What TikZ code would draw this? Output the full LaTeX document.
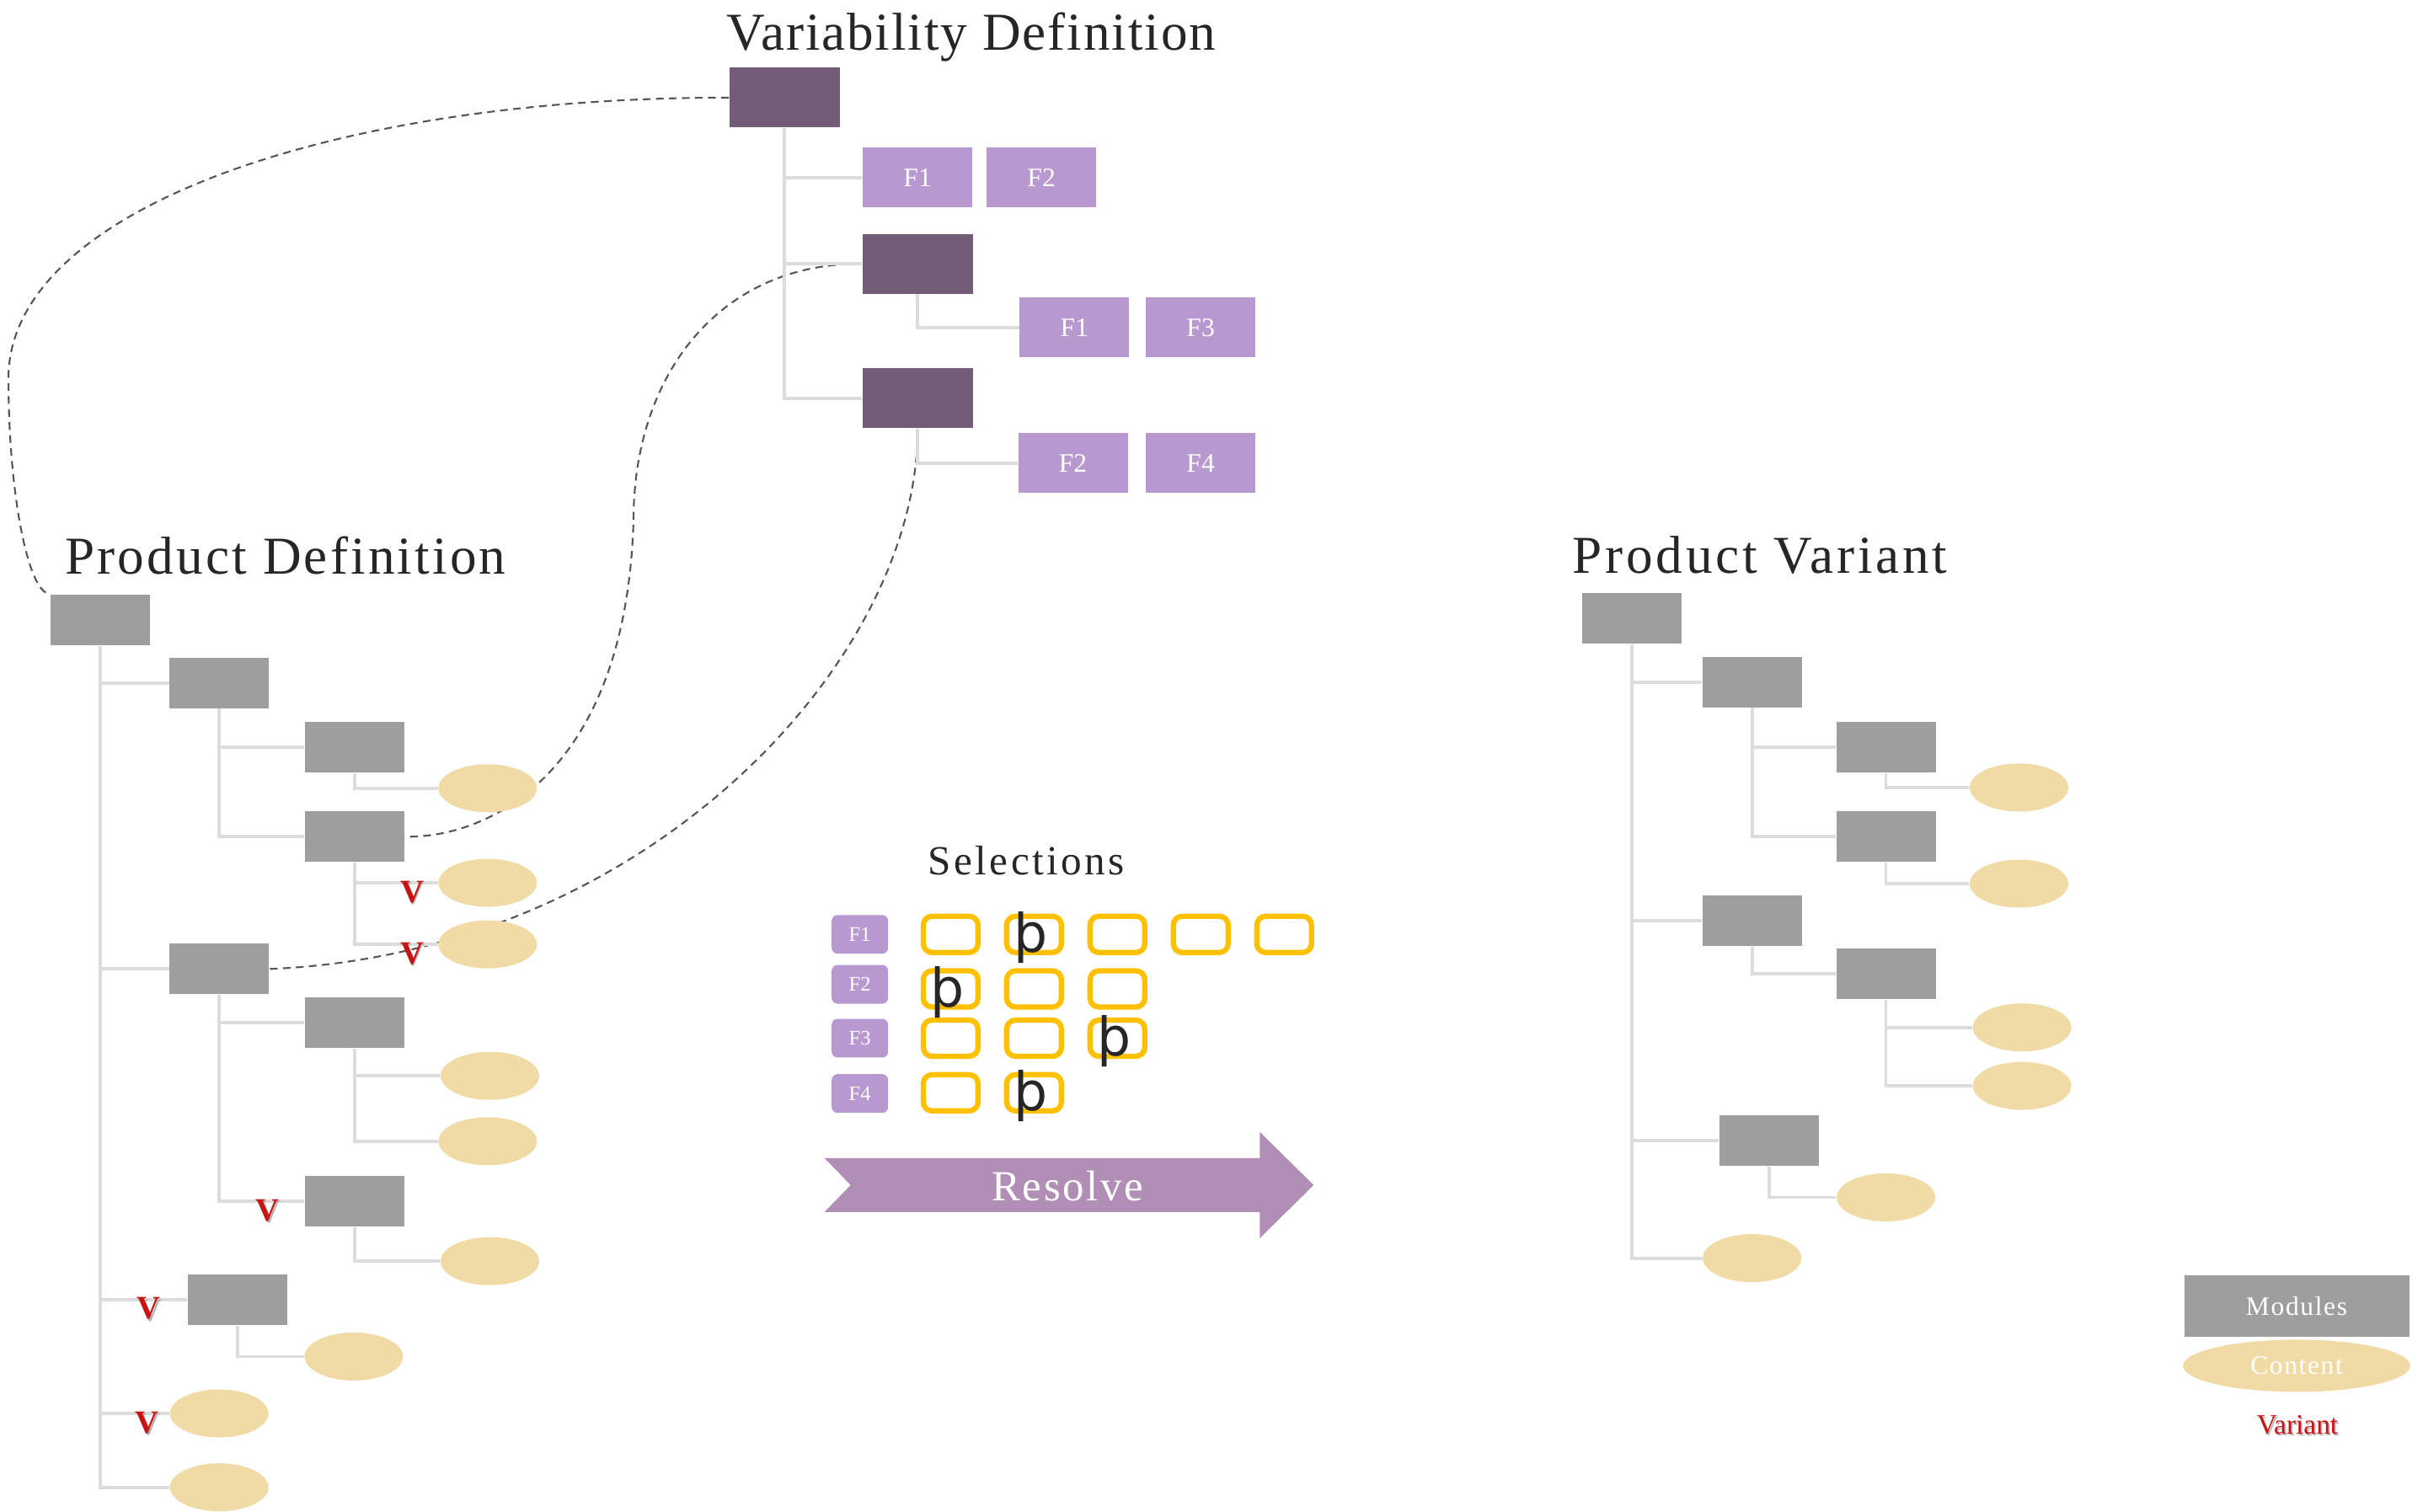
\documentclass[tikz,border=0pt]{standalone}
\usepackage{fontspec}
\setmainfont{Liberation Serif}
\newfontfamily\tickfont{DejaVu Sans}
\usetikzlibrary{shapes.geometric, positioning, calc, backgrounds}
\definecolor{moduleGrey}{RGB}{158,158,158}
\definecolor{contentSand}{RGB}{240,219,167}
\definecolor{featLilac}{RGB}{183,152,207}
\definecolor{varPlum}{RGB}{115,92,120}
\definecolor{pickAmber}{RGB}{255,192,0}
\definecolor{resolveMauve}{RGB}{176,142,181}
\definecolor{treeGrey}{RGB}{220,220,220}
\definecolor{linkGrey}{RGB}{85,85,85}
\definecolor{variantRed}{RGB}{200,20,20}
\definecolor{titleInk}{RGB}{38,38,38}
\newcommand{\shadowtext}[1]{\rlap{\textcolor{black!30}{\raisebox{-0.8pt}{\hspace{0.5pt}#1}}}#1}

\begin{document}
\begin{tikzpicture}[x=0.01826cm, y=-0.01826cm,
    module/.style={
        rectangle,
        fill=moduleGrey,
        minimum width=1.18cm,
        minimum height=0.6cm,
        inner sep=0
    },
    content/.style={
        ellipse,
        fill=contentSand,
        minimum width=1.17cm,
        minimum height=0.57cm,
        inner sep=0
    },
    vpoint/.style={
        rectangle,
        fill=varPlum,
        minimum width=1.31cm,
        minimum height=0.71cm,
        inner sep=0
    },
    feature/.style={
        rectangle,
        fill=featLilac,
        minimum width=1.3cm,
        minimum height=0.71cm,
        inner sep=0,
        text=white,
        font=\fontsize{9}{10}\selectfont
    },
    flabel/.style={
        rectangle,
        rounded corners=2pt,
        fill=featLilac,
        minimum width=0.67cm,
        minimum height=0.46cm,
        inner sep=0,
        text=white,
        font=\fontsize{7}{8}\selectfont
    },
    pick/.style={
        rectangle,
        rounded corners=3pt,
        draw=pickAmber,
        line width=1.8pt,
        minimum width=0.65cm,
        minimum height=0.43cm,
        inner sep=0
    },
    tick/.style={
        anchor=base west,
        inner sep=0,
        text=titleInk,
        font=\tickfont\fontsize{18}{20}\selectfont
    },
    title/.style={
        anchor=base west,
        inner sep=0,
        text=titleInk,
        font=\fontsize{18}{20}\selectfont\addfontfeatures{LetterSpace=3}
    },
    vmark/.style={
        anchor=base east,
        inner sep=0,
        text=variantRed,
        font=\fontsize{11}{12}\selectfont\bfseries
    },
    tree/.style={draw=treeGrey, line width=1.1pt},
    link/.style={draw=linkGrey, line width=0.6pt, dash pattern=on 2.6pt off 1.8pt}
]
    \useasboundingbox (0,0) rectangle (1568,983);

    % Titles
    \node[title] (vtitle) at (472,32.5) {Variability Definition};
    \node[title, font=\fontsize{18}{20}\selectfont\addfontfeatures{LetterSpace=5}] (ptitle) at (42,373) {Product Definition};
    \node[title, font=\fontsize{18}{20}\selectfont\addfontfeatures{LetterSpace=6}] (qtitle) at (1022,372.5) {Product Variant};
    \node[title, font=\fontsize{14}{16}\selectfont\addfontfeatures{LetterSpace=7}] (stitle) at (603,568.5) {Selections};

    % Variability definition
    \node[vpoint] (vroot) at (510,63.5) {};
    \node[feature] (vf1) at (596.5,115.5) {F1};
    \node[feature] (vf2) at (677,115.5) {F2};
    \node[vpoint] (vgrp1) at (596.5,171.5) {};
    \node[feature] (vgrp1f1) at (698.5,213) {F1};
    \node[feature] (vgrp1f3) at (780.5,213) {F3};
    \node[vpoint] (vgrp2) at (596.5,259) {};
    \node[feature] (vgrp2f2) at (697.5,301) {F2};
    \node[feature] (vgrp2f4) at (780.5,301) {F4};

    % Product definition
    \node[module] (proot) at (65,403) {};
    \node[module] (pA) at (142.5,444) {};
    \node[module] (pA1) at (230.5,486) {};
    \node[content] (pA1c) at (317,512.5) {};
    \node[module] (pA2) at (230.5,544) {};
    \node[content] (pA2c1) at (317,574) {};
    \node[content] (pA2c2) at (317,614) {};
    \node[module] (pB) at (142.5,630) {};
    \node[module] (pB1) at (230.5,665) {};
    \node[content] (pB1c1) at (318.5,699.5) {};
    \node[content] (pB1c2) at (317,742) {};
    \node[module] (pB2) at (230.5,781) {};
    \node[content] (pB2c) at (318.5,820) {};
    \node[module] (pC) at (154.5,845) {};
    \node[content] (pCc) at (230,882) {};
    \node[content] (pD) at (142.5,919) {};
    \node[content] (pE) at (142.5,967) {};

    % Product variant
    \node[module] (qroot) at (1061,402) {};
    \node[module] (qA) at (1139,443.5) {};
    \node[module] (qA1) at (1226,486) {};
    \node[content] (qA1c) at (1312.5,512) {};
    \node[module] (qA2) at (1226,544) {};
    \node[content] (qA2c) at (1312.5,574.5) {};
    \node[module] (qB) at (1139,598.5) {};
    \node[module] (qB1) at (1226,633) {};
    \node[content] (qB1c1) at (1314.5,668) {};
    \node[content] (qB1c2) at (1314.5,706) {};
    \node[module] (qC) at (1150,741.5) {};
    \node[content] (qCc) at (1226,778.5) {};
    \node[content] (qD) at (1139,818) {};

    % Tree lines
    \foreach \a/\b in {vroot/vf1, vroot/vgrp1, vroot/vgrp2, vgrp1/vgrp1f1, vgrp2/vgrp2f2,
        proot/pA, proot/pB, proot/pC, proot/pD, proot/pE, pA/pA1, pA/pA2, pA1/pA1c,
        pA2/pA2c1, pA2/pA2c2, pB/pB1, pB/pB2, pB1/pB1c1, pB1/pB1c2, pB2/pB2c, pC/pCc,
        qroot/qA, qroot/qB, qroot/qC, qroot/qD, qA/qA1, qA/qA2, qA1/qA1c, qA2/qA2c,
        qB/qB1, qB1/qB1c1, qB1/qB1c2, qC/qCc}
        \draw[tree] (\a.south) |- (\b.west);

    % Variant marks
    \node[vmark] (vm1) at ([xshift=-0.16cm, yshift=-0.23cm]pA2c1.west) {\shadowtext{V}};
    \node[vmark] (vm2) at ([xshift=-0.16cm, yshift=-0.23cm]pA2c2.west) {\shadowtext{V}};
    \node[vmark] (vm3) at ([xshift=-0.29cm, yshift=-0.23cm]pB2.west) {\shadowtext{V}};
    \node[vmark] (vm4) at ([xshift=-0.31cm, yshift=-0.23cm]pC.west) {\shadowtext{V}};
    \node[vmark] (vm5) at ([xshift=-0.12cm, yshift=-0.23cm]pD.west) {\shadowtext{V}};

    % Links from variation points
    \begin{scope}[on background layer]
        \draw[link] (vroot.west) .. controls (220,63) and (5.5,135) .. (5.5,246)
            .. controls (5.5,320) and (18,385) .. (proot.north west);
        \draw[link] (vgrp1.west) .. controls (470,171) and (415,240) .. (412,330)
            .. controls (410,500) and (320,545) .. (pA2.east);
        \draw[link] (vgrp2.south) .. controls (597,430) and (420,620) .. (pB.east);
    \end{scope}

    % Selections
    \foreach \r/\y in {1/607.5, 2/640, 3/675, 4/711}
        \node[flabel] (sel\r) at (559,\y) {F\r};
    \foreach \r/\y/\n in {1/607.5/5, 2/643/3, 3/675/3, 4/710.5/2}
        \foreach \c in {1,...,\n}
            \node[pick] (pick\r\c) at ({563.8+54.2*\c},\y) {};
    \foreach \r/\c in {1/2, 2/1, 3/3, 4/2}
        \node[tick] (tick\r\c) at ([xshift=0.11cm, yshift=-0.21cm]pick\r\c.west) {þ};

    % Resolve arrow
    \fill[resolveMauve] (536,753) -- (819,753) -- (819,736) -- (854,770.5) -- (819,805)
        -- (819,788) -- (536,788) -- (553,770.5) -- cycle;
    \node[text=white, font=\fontsize{14.5}{16}\selectfont\addfontfeatures{LetterSpace=5}] (resolve) at (694,771) {Resolve};

    % Key
    \node[module, minimum width=2.67cm, minimum height=0.73cm, text=white,
        font=\fontsize{9}{10}\selectfont\addfontfeatures{LetterSpace=5}] (keyModules) at (1493,849) {Modules};
    \node[content, minimum width=2.7cm, minimum height=0.62cm, text=white,
        font=\fontsize{9}{10}\selectfont\addfontfeatures{LetterSpace=5}] (keyContent) at (1493,888) {Content};
    \node[vmark, anchor=center, font=\fontsize{9.5}{10}\selectfont] (keyVariant) at (1493.5,927) {\shadowtext{Variant}};

\end{tikzpicture}
\end{document}
